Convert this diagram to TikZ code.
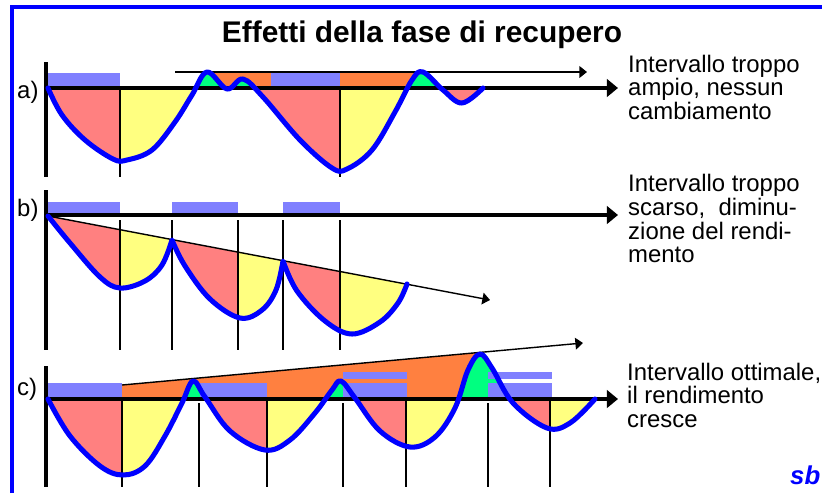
\documentclass[tikz,border=0pt]{standalone}
\usepackage{fontspec}
\setmainfont{Liberation Sans}
\usetikzlibrary{arrows.meta}
\definecolor{redf}{HTML}{FF8080}
\definecolor{yelf}{HTML}{FFFF80}
\definecolor{barf}{HTML}{8080FF}
\definecolor{orgf}{HTML}{FF8040}
\definecolor{grnf}{HTML}{00FF80}
\definecolor{curvec}{HTML}{0000FF}
\def\curveA{plot[smooth,tension=0.6] coordinates {(48,88) (62,115) (85,140) (113,159) (127,160) (152,150) (175,122) (192,95) (207,72) (227,89) (243,79) (263,97) (300,140) (332,168) (347,169) (372,150) (395,112) (412,80) (423,72) (443,90) (462,103) (483,88)}}
\def\curveB{plot[smooth,tension=0.6] coordinates {(48,216) (70,243) (100,277) (120,288) (145,281) (162,265) (172,240)} -- plot[smooth,tension=0.6] coordinates {(172,240) (185,266) (210,299) (240,318) (262,310) (276,290) (283,261)} -- plot[smooth,tension=0.6] coordinates {(283,261) (297,291) (325,321) (352,334) (380,322) (398,303) (407,284)}}
\def\curveC{plot[smooth,tension=0.6] coordinates {(48,399) (70,436) (100,466) (123,475) (145,466) (165,436) (182,403) (193,381) (205,397) (230,431) (265,450) (290,440) (315,413) (332,390) (341,381) (355,398) (380,431) (410,447) (435,437) (455,408) (468,370) (480,354) (492,368) (513,403) (547,428) (570,423) (595,399)}}
\begin{document}
\begin{tikzpicture}[x=0.03cm,y=-0.03cm,
  curve/.style={draw=curvec,line width=4.3pt,line join=round,line cap=round},
  axisline/.style={line width=2.6pt},
  bigarrow/.style={line width=2.6pt,-{Triangle[length=9.5pt,width=15pt]}},
  thinarrow/.style={line width=1.2pt,-{Triangle[length=6.5pt,width=10pt]}},
  vline/.style={line width=1.2pt},
  frameline/.style={draw=curvec,line width=3.4pt},
  lbl/.style={anchor=base west,inner sep=0pt,font=\fontsize{20.4pt}{20.4pt}\selectfont},
  ttl/.style={anchor=base,inner sep=0pt,font=\fontsize{25.5pt}{25.5pt}\selectfont\bfseries},
  sig/.style={anchor=base west,inner sep=0pt,text=curvec,font=\fontsize{22pt}{22pt}\selectfont\bfseries\itshape}]
\useasboundingbox (0,0) rectangle (822,493);
\fill[white] (0,0) rectangle (822,493);
% frame
\draw[frameline] (12,493) -- (12,7) -- (822,7);
% title
\node[ttl] (title) at (422,42) {Effetti della fase di recupero};

% ================= panel a =================
\fill[orgf] (207,72) rectangle (423,88);
\begin{scope}\clip (40,50) rectangle (500,88); \fill[grnf] \curveA -- cycle; \end{scope}
\fill[barf] (48,73) rectangle (120,88);
\fill[barf] (271,72) rectangle (340,88);
\begin{scope}\clip (46,88) rectangle (120,200); \fill[redf] \curveA -- cycle; \end{scope}
\begin{scope}\clip (120,88) rectangle (205,200); \fill[yelf] \curveA -- cycle; \end{scope}
\begin{scope}\clip (205,88) rectangle (340,200); \fill[redf] \curveA -- cycle; \end{scope}
\begin{scope}\clip (340,88) rectangle (430,200); \fill[yelf] \curveA -- cycle; \end{scope}
\begin{scope}\clip (430,88) rectangle (500,200); \fill[redf] \curveA -- cycle; \end{scope}
\draw[vline] (120,88) -- (120,177);
\draw[vline] (340,88) -- (340,177);
\coordinate (aTop) at (46,62); \coordinate (aBot) at (46,177);
\coordinate (aO) at (46,88); \coordinate (aEnd) at (618,88);
\coordinate (aLs) at (175,72); \coordinate (aLe) at (587,72);
\draw[axisline] (aTop) -- (aBot);
\draw[bigarrow] (aO) -- (aEnd);
\draw[thinarrow] (aLs) -- (aLe);
\draw[curve] \curveA;
\node[lbl] (la) at (17,98) {a)};
\node[lbl] (ta1) at (628,72) {Intervallo troppo};
\node[lbl] (ta2) at (628,95) {ampio, nessun};
\node[lbl] (ta3) at (628,119) {cambiamento};

% ================= panel b =================
\fill[barf] (48,202) rectangle (120,215);
\fill[barf] (172,202) rectangle (238,215);
\fill[barf] (283,202) rectangle (340,215);
\begin{scope}\clip (46,210) rectangle (120,360); \fill[redf] \curveB -- cycle; \end{scope}
\begin{scope}\clip (120,210) rectangle (172,360); \fill[yelf] \curveB -- cycle; \end{scope}
\begin{scope}\clip (172,210) rectangle (238,360); \fill[redf] \curveB -- cycle; \end{scope}
\begin{scope}\clip (238,210) rectangle (283,360); \fill[yelf] \curveB -- cycle; \end{scope}
\begin{scope}\clip (283,210) rectangle (340,360); \fill[redf] \curveB -- cycle; \end{scope}
\begin{scope}\clip (340,210) rectangle (420,360); \fill[yelf] \curveB -- cycle; \end{scope}
\foreach \xx in {120,172,238,283,340} {\draw[vline] (\xx,220) -- (\xx,350);}
\coordinate (bTop) at (46,190); \coordinate (bBot) at (46,350);
\coordinate (bO) at (46,215); \coordinate (bEnd) at (618,215);
\coordinate (bLs) at (48,216); \coordinate (bLe) at (490,300);
\draw[axisline] (bTop) -- (bBot);
\draw[bigarrow] (bO) -- (bEnd);
\draw[thinarrow] (bLs) -- (bLe);
\draw[curve] \curveB;
\node[lbl] (lb) at (17,216) {b)};
\node[lbl] (tb1) at (628,191) {Intervallo troppo};
\node[lbl] (tb2) at (628,215) {scarso,~ diminu-};
\node[lbl] (tb3) at (628,239) {zione del rendi-};
\node[lbl] (tb4) at (628,262) {mento};

% ================= panel c =================
\fill[orgf] (122,399) -- (122,385) -- (480,352.4) -- (480,399) -- cycle;
\begin{scope}\clip (40,340) rectangle (620,399); \fill[grnf] \curveC -- cycle; \end{scope}
\fill[barf] (48,383) rectangle (122,399);
\fill[barf] (200,383) rectangle (267,399);
\fill[barf] (343,372) rectangle (407,379);
\fill[barf] (343,383) rectangle (407,399);
\fill[barf] (488,372) rectangle (552,379);
\fill[barf] (488,383) rectangle (552,399);
\begin{scope}\clip (46,399) rectangle (122,490); \fill[redf] \curveC -- cycle; \end{scope}
\begin{scope}\clip (122,399) rectangle (200,490); \fill[yelf] \curveC -- cycle; \end{scope}
\begin{scope}\clip (200,399) rectangle (267,490); \fill[redf] \curveC -- cycle; \end{scope}
\begin{scope}\clip (267,399) rectangle (343,490); \fill[yelf] \curveC -- cycle; \end{scope}
\begin{scope}\clip (343,399) rectangle (406,490); \fill[redf] \curveC -- cycle; \end{scope}
\begin{scope}\clip (406,399) rectangle (488,490); \fill[yelf] \curveC -- cycle; \end{scope}
\begin{scope}\clip (488,399) rectangle (550,490); \fill[redf] \curveC -- cycle; \end{scope}
\begin{scope}\clip (550,399) rectangle (620,490); \fill[yelf] \curveC -- cycle; \end{scope}
\foreach \xx in {122,267,406,550} {\draw[vline] (\xx,399) -- (\xx,487);}
\foreach \xx in {199,343,488} {\draw[vline] (\xx,403) -- (\xx,487);}
\coordinate (cTop) at (46,366); \coordinate (cBot) at (46,487);
\coordinate (cO) at (46,399); \coordinate (cEnd) at (618,399);
\coordinate (cLs) at (122,385); \coordinate (cLe) at (583,343);
\draw[axisline] (cTop) -- (cBot);
\draw[bigarrow] (cO) -- (cEnd);
\draw[thinarrow] (cLs) -- (cLe);
\draw[curve] \curveC;
\node[lbl] (lc) at (17,395) {c)};
\node[lbl] (tc1) at (627,380) {Intervallo ottimale,};
\node[lbl] (tc2) at (627,403) {il rendimento};
\node[lbl] (tc3) at (627,427) {cresce};

\node[sig] (sb) at (790,484) {sb};
\end{tikzpicture}
\end{document}
